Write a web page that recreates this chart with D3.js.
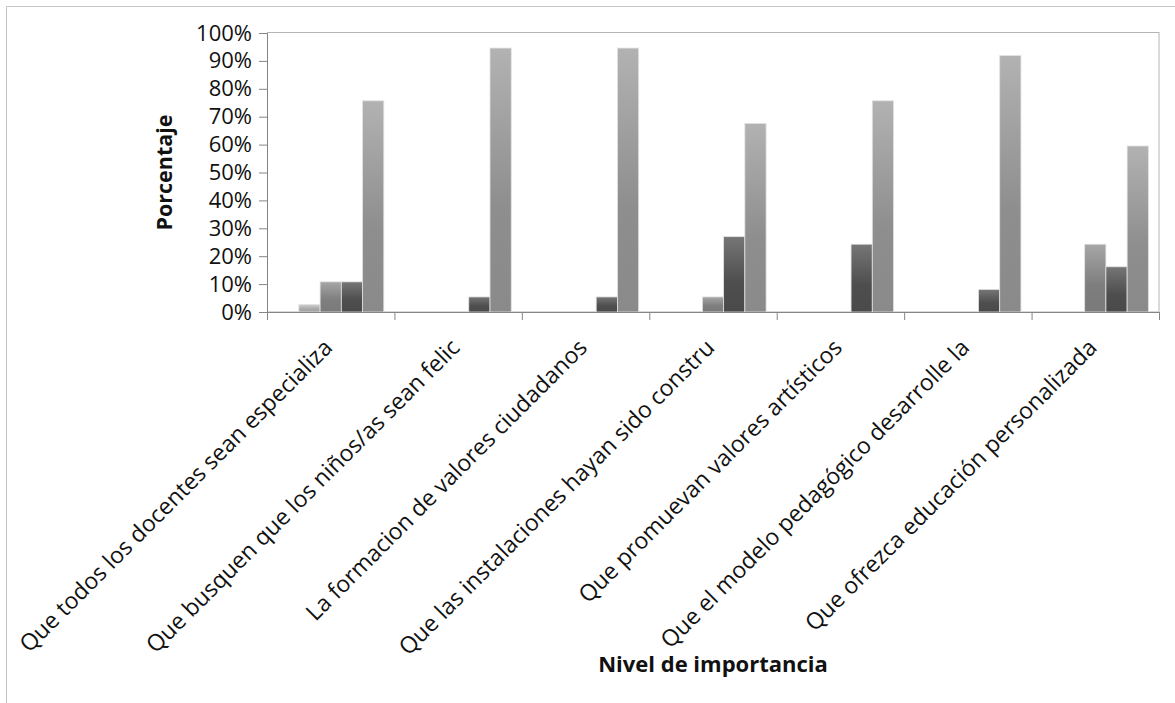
<!DOCTYPE html>
<html>
<head>
<meta charset="utf-8">
<script src="https://cdn.jsdelivr.net/npm/d3@7"></script>
<style>
  html, body { margin: 0; padding: 0; background: #fff; }
  svg { display: block; font-family: "Open Sans", sans-serif; }
</style>
</head>
<body>
<svg id="chart" width="1175" height="703"></svg>
<script>
// ---- data ----
const categories = [
  "Que todos los docentes sean especializa",
  "Que busquen que los niños/as sean felic",
  "La formacion de valores ciudadanos",
  "Que las instalaciones hayan sido constru",
  "Que promuevan valores artísticos",
  "Que el modelo pedagógico desarrolle la",
  "Que ofrezca educación personalizada"
];
const seriesNames = ["Serie 1", "Serie 2", "Serie 3", "Serie 4", "Serie 5"];
const serie1 = [0, 0, 0, 0, 0, 0, 0];
const serie2 = [2.7, 0, 0, 0, 0, 0, 0];
const serie3 = [10.8, 0, 0, 5.4, 0, 0, 24.3];
const serie4 = [10.8, 5.4, 5.4, 27.0, 24.3, 8.1, 16.2];
const serie5 = [75.7, 94.6, 94.6, 67.6, 75.7, 91.9, 59.5];
const yTicks = [0, 10, 20, 30, 40, 50, 60, 70, 80, 90, 100];
const yTitle = "Porcentaje";
const xTitle = "Nivel de importancia";

const seriesValues = [serie1, serie2, serie3, serie4, serie5];

// ---- layout ----
const svg = d3.select("#chart");
const pLeft = 267, pRight = 1159, pTop = 33, pBottom = 312;

const x = d3.scaleBand().domain(categories).range([pLeft, pRight]).paddingInner(0).paddingOuter(0);
const xs = d3.scaleBand().domain(seriesNames).range([0, x.bandwidth()]).paddingInner(0).paddingOuter(0.5);
const y = d3.scaleLinear().domain([0, 100]).range([pBottom, pTop]);

// gradients per series (top light -> bottom darker)
const gradColors = [
  ["#d8d8d8", "#b0b0b0", "#a8a8a8"],
  ["#d0d0d0", "#a8a8a8", "#a0a0a0"],
  ["#a6a6a6", "#7e7e7e", "#7a7a7a"],
  ["#767676", "#4e4e4e", "#4a4a4a"],
  ["#b2b2b2", "#8e8e8e", "#8a8a8a"]
];
const defs = svg.append("defs");
gradColors.forEach((c, i) => {
  const g = defs.append("linearGradient").attr("id", "g" + i)
    .attr("x1", 0).attr("y1", 0).attr("x2", 0).attr("y2", 1);
  g.append("stop").attr("offset", "0%").attr("stop-color", c[0]);
  g.append("stop").attr("offset", "60%").attr("stop-color", c[1]);
  g.append("stop").attr("offset", "100%").attr("stop-color", c[2]);
});

// outer chart border (top & left)
svg.append("line").attr("x1", 6.5).attr("y1", 6.5).attr("x2", 1175).attr("y2", 6.5)
  .attr("stroke", "#c4c4c4").attr("stroke-width", 1);
svg.append("line").attr("x1", 6.5).attr("y1", 6.5).attr("x2", 6.5).attr("y2", 703)
  .attr("stroke", "#c4c4c4").attr("stroke-width", 1);

// plot area border
svg.append("rect").attr("x", pLeft + 0.5).attr("y", pTop - 0.5)
  .attr("width", pRight - pLeft - 0.5).attr("height", pBottom - pTop + 0.5)
  .attr("fill", "none").attr("stroke", "#b4b4b4").attr("stroke-width", 1);

// bars
const groups = svg.append("g").selectAll("g").data(seriesNames).join("g")
  .attr("fill", (d, i) => `url(#g${i})`);
groups.selectAll("rect")
  .data((s, i) => categories.map((c, j) => ({ c, s, v: seriesValues[i][j] })))
  .join("rect")
  .filter(d => d.v > 0)
  .attr("x", d => x(d.c) + xs(d.s))
  .attr("y", d => y(d.v))
  .attr("width", xs.bandwidth())
  .attr("height", d => y(0) - y(d.v))
  .attr("stroke", "#e2e2e2")
  .attr("stroke-width", 0.8);

// y axis
const yAxis = svg.append("g").attr("transform", `translate(${pLeft},0)`)
  .call(d3.axisLeft(y).tickValues(yTicks).tickFormat(d => d + "%").tickSize(8).tickPadding(7));
yAxis.select(".domain").attr("stroke", "#868686");
yAxis.selectAll(".tick line").attr("stroke", "#868686");
yAxis.selectAll(".tick text").attr("font-size", 22).attr("fill", "#111")
  .attr("font-family", "'Open Sans', sans-serif");

// x axis line and boundary ticks
svg.append("line").attr("x1", pLeft).attr("x2", pRight).attr("y1", pBottom + 0.5).attr("y2", pBottom + 0.5)
  .attr("stroke", "#868686");
const bounds = categories.map(c => x(c)).concat([x(categories[categories.length - 1]) + x.bandwidth()]);
svg.append("g").selectAll("line").data(bounds).join("line")
  .attr("x1", d => d + 0.5).attr("x2", d => d + 0.5)
  .attr("y1", pBottom).attr("y2", pBottom + 8)
  .attr("stroke", "#868686");

// category labels, rotated -45
svg.append("g").selectAll("text").data(categories).join("text")
  .attr("transform", d => `translate(${x(d) + x.bandwidth() / 2 + 3},${pBottom + 37}) rotate(-45)`)
  .attr("text-anchor", "end")
  .attr("font-size", 23)
  .attr("fill", "#111")
  .text(d => d);

// axis titles
svg.append("text")
  .attr("transform", `translate(172,${(pTop + pBottom) / 2}) rotate(-90)`)
  .attr("text-anchor", "middle")
  .attr("font-size", 21.5)
  .attr("font-weight", "bold")
  .attr("fill", "#111")
  .text(yTitle);

svg.append("text")
  .attr("x", (pLeft + pRight) / 2)
  .attr("y", 672)
  .attr("text-anchor", "middle")
  .attr("font-size", 22)
  .attr("font-weight", "bold")
  .attr("fill", "#111")
  .text(xTitle);
</script>
</body>
</html>
